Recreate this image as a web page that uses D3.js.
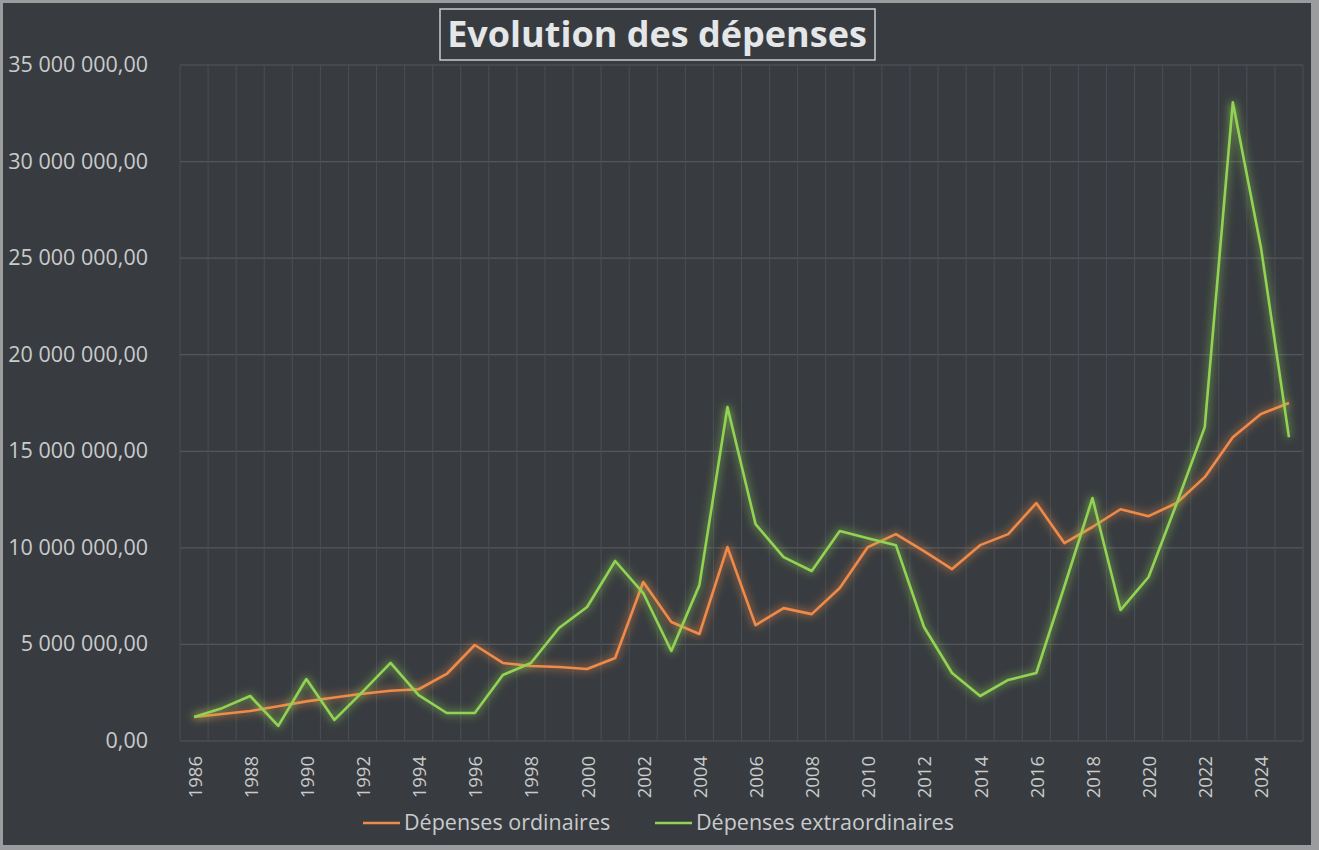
<!DOCTYPE html>
<html><head><meta charset="utf-8">
<script src="https://cdn.jsdelivr.net/npm/d3@7"></script>
<style>
html,body{margin:0;padding:0;background:#fff;}
svg{display:block;}
</style></head>
<body>
<svg id="c" width="1319" height="850"></svg>
<script>
const years = d3.range(1986, 2026).map(String);
const ordinaires = [1.24,1.40,1.55,1.80,2.05,2.25,2.45,2.60,2.68,3.47,4.97,4.04,3.88,3.83,3.73,4.30,8.23,6.16,5.54,10.04,6.00,6.88,6.57,7.92,10.04,10.71,9.83,8.90,10.14,10.71,12.32,10.25,11.08,12.00,11.64,12.32,13.66,15.73,16.93,17.50].map(v=>v*1e6);
const extraordinaires = [1.24,1.70,2.33,0.78,3.21,1.09,2.54,4.04,2.38,1.45,1.45,3.42,4.04,5.85,6.94,9.32,7.66,4.66,8.07,17.29,11.23,9.52,8.80,10.87,10.50,10.14,5.90,3.52,2.33,3.16,3.52,8.00,12.58,6.78,8.49,12.30,16.25,33.07,25.57,15.73].map(v=>v*1e6);
const yTicks = [0,5e6,10e6,15e6,20e6,25e6,30e6,35e6];
const xTickLabels = years.filter((y,i)=>i%2===0);
const seriesNames = ["Dépenses ordinaires","Dépenses extraordinaires"];
const colors = ["#ef8a48","#92d353"];

const svg = d3.select("#c");
const W=1319,H=850;
const m={l:180,r:1303,t:65,b:741};

svg.append("rect").attr("width",W).attr("height",H).attr("fill","#9a9c9e");
svg.append("rect").attr("x",3).attr("y",3).attr("width",1308).attr("height",842).attr("fill","#383c40");

const defs = svg.append("defs");
const f = defs.append("filter").attr("id","glow").attr("x","-10%").attr("y","-10%").attr("width","120%").attr("height","120%");
f.append("feGaussianBlur").attr("in","SourceGraphic").attr("stdDeviation",4).attr("result","b");
const fm=f.append("feMerge");
fm.append("feMergeNode").attr("in","b");
fm.append("feMergeNode").attr("in","SourceGraphic");

const x = d3.scaleBand().domain(years).range([m.l,m.r]);
const y = d3.scaleLinear().domain([0,35e6]).range([m.b,m.t]);

const fmt = v => d3.format(",.2f")(v).replace(/,/g," ").replace(".",",");

// gridlines
const g = svg.append("g");
g.selectAll("line.h").data(yTicks).join("line")
 .attr("x1",m.l).attr("x2",m.r).attr("y1",d=>y(d)).attr("y2",d=>y(d))
 .attr("stroke","#53575c").attr("stroke-width",1.2);
const bounds = years.map(d=>x(d)).concat([m.r]);
g.selectAll("line.v").data(bounds).join("line")
 .attr("x1",d=>d).attr("x2",d=>d).attr("y1",m.t).attr("y2",m.b)
 .attr("stroke","#4b4f54").attr("stroke-width",1);

// y axis
const ya = svg.append("g").attr("transform",`translate(${m.l-29},0)`)
 .call(d3.axisLeft(y).tickValues(yTicks).tickFormat(fmt).tickSize(0));
ya.select(".domain").remove();
ya.selectAll("text").attr("font-family","Open Sans").attr("font-size",21.5).attr("fill","#c9cbcc").attr("dx",0).attr("dy","0.3em");

// x axis
const xa = svg.append("g").attr("transform",`translate(0,${m.b})`)
 .call(d3.axisBottom(x).tickValues(xTickLabels).tickSize(0));
xa.select(".domain").remove();
xa.selectAll("text").attr("font-family","Open Sans").attr("font-size",18.5).attr("fill","#c9cbcc")
 .attr("transform","rotate(-90)").attr("text-anchor","end").attr("x",-15).attr("y",1).attr("dy","0.35em");

// lines
const line = d3.line().x((d,i)=>x(years[i])+x.bandwidth()/2).y(d=>y(d));
[ordinaires,extraordinaires].forEach((s,i)=>{
  svg.append("path").datum(s).attr("d",line).attr("fill","none")
   .attr("stroke",colors[i]).attr("stroke-width",2.6).attr("stroke-linejoin","round")
   .attr("filter","url(#glow)");
});

// title
svg.append("rect").attr("x",440).attr("y",9).attr("width",435).attr("height",51)
 .attr("fill","none").attr("stroke","#c9cbcc").attr("stroke-width",1.5);
svg.append("text").attr("x",657).attr("y",47).attr("text-anchor","middle")
 .attr("font-family","Open Sans").attr("font-weight","bold").attr("font-size",36)
 .attr("fill","#e4e6e8").text("Evolution des dépenses");

// legend
const lx=[363,655];
seriesNames.forEach((n,i)=>{
  svg.append("line").attr("x1",lx[i]).attr("x2",lx[i]+37).attr("y1",823).attr("y2",823)
   .attr("stroke",colors[i]).attr("stroke-width",2.6);
  svg.append("text").attr("x",lx[i]+41).attr("y",830).attr("font-family","Open Sans")
   .attr("font-size",21.5).attr("fill","#c9cbcc").text(n);
});
</script>
</body></html>
